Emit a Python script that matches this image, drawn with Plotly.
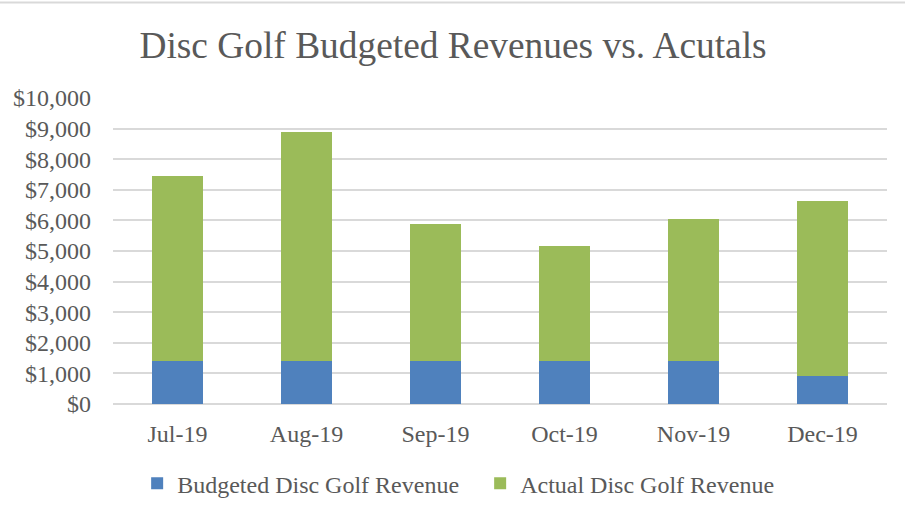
import plotly.graph_objects as go

# Monthly disc golf revenue: budgeted amount and actual amount (stacked)
months = ["Jul-19", "Aug-19", "Sep-19", "Oct-19", "Nov-19", "Dec-19"]
budgeted = [1420, 1420, 1420, 1420, 1420, 930]
actual = [6040, 7480, 4460, 3740, 4640, 5690]

tick_vals = [0, 1000, 2000, 3000, 4000, 5000, 6000, 7000, 8000, 9000, 10000]
tick_text = ["$0", "$1,000", "$2,000", "$3,000", "$4,000", "$5,000",
             "$6,000", "$7,000", "$8,000", "$9,000", "$10,000"]

FONT = "Liberation Serif, Times New Roman, serif"
TEXT = "#595959"
GRID = "#d9d9d9"

fig = go.Figure()
fig.add_trace(go.Bar(
    x=months, y=budgeted, name="Budgeted Disc Golf Revenue",
    marker=dict(color="#4f81bd", line=dict(width=0)),
))
fig.add_trace(go.Bar(
    x=months, y=actual, name="Actual Disc Golf Revenue",
    marker=dict(color="#9bbb59", line=dict(width=0)),
))

fig.update_layout(
    barmode="stack",
    bargap=0.6,
    width=906, height=518,
    margin=dict(l=113, r=19, t=98, b=112),
    paper_bgcolor="white",
    plot_bgcolor="white",
    font=dict(family=FONT, color=TEXT, size=24),
    title=dict(
        text="Disc Golf Budgeted Revenues vs. Acutals",
        font=dict(family=FONT, size=37.4, color=TEXT),
        x=0.5, xanchor="center", y=0.913, yanchor="middle",
    ),
    xaxis=dict(
        showgrid=False, showline=False, ticks="",
        tickfont=dict(size=24, color=TEXT),
        ticklabelstandoff=13,
    ),
    yaxis=dict(
        range=[0, 10000],
        tickvals=tick_vals, ticktext=tick_text,
        showgrid=True, gridcolor=GRID, gridwidth=2,
        zeroline=True, zerolinecolor=GRID, zerolinewidth=2,
        showline=False, ticks="",
        tickfont=dict(size=24, color=TEXT),
        ticklabelstandoff=21,
    ),
    legend=dict(
        orientation="h",
        x=0.0312, xanchor="left",
        y=-0.26, yanchor="middle",
        font=dict(size=24, color=TEXT),
        traceorder="normal",
        itemwidth=30,
        entrywidth=298,
    ),
    shapes=[dict(
        type="line", xref="paper", yref="paper",
        x0=-113 / 774, x1=792 / 774, y0=404 / 308, y1=404 / 308,
        line=dict(color="#d9d9d9", width=2),
    )],
)

fig.write_html("out.html")
